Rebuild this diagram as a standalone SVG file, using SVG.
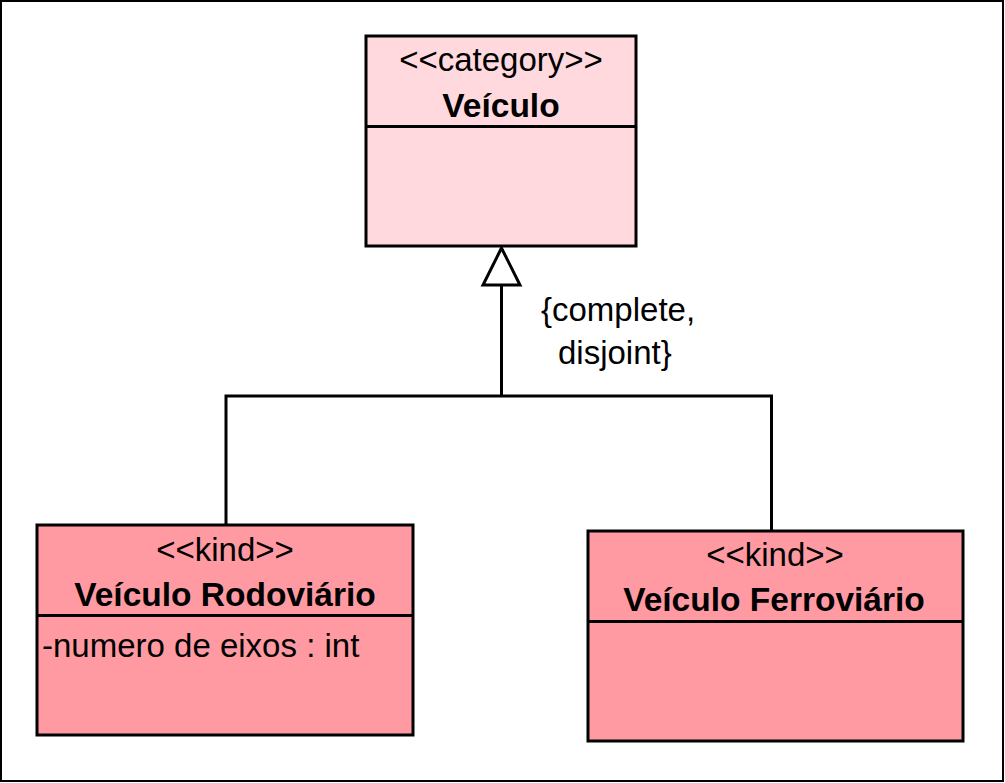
<svg xmlns="http://www.w3.org/2000/svg" width="1005" height="783" viewBox="0 0 1005 783">
<style>
.box{stroke:#000;stroke-width:3}
.cat{fill:#FFD9DD}
.kind{fill:#FF9AA2}
.ln{stroke:#000;stroke-width:3;fill:none}
text{font-family:"Liberation Sans",Arial,sans-serif;font-size:33px;fill:#000}
.b{font-weight:bold;font-size:33.5px}
.c{text-anchor:middle}
</style>
<rect x="0" y="0" width="1005" height="783" fill="#fff"/>
<rect x="1" y="1" width="1002" height="780" fill="none" stroke="#000" stroke-width="2"/>
<g id="connectors">
<polyline class="ln" points="501.5,285 501.5,396"/>
<polyline class="ln" points="226,525 226,396 771.5,396 771.5,531"/>
<polygon points="501.5,248 483,285 520,285" fill="#fff" stroke="#000" stroke-width="3" stroke-linejoin="miter"/>
<text x="541" y="321">{complete,</text>
<text x="558" y="364">disjoint}</text>
</g>
<g id="veiculo">
<rect class="box cat" x="366" y="36" width="270" height="210"/>
<line class="ln" x1="366" y1="126.5" x2="636" y2="126.5"/>
<text class="c" x="501" y="71">&lt;&lt;category&gt;&gt;</text>
<text class="c b" x="501" y="117">Veículo</text>
</g>
<g id="veiculo-rodoviario">
<rect class="box kind" x="37" y="525" width="376" height="210"/>
<line class="ln" x1="37" y1="615.5" x2="413" y2="615.5"/>
<text class="c" x="225" y="561">&lt;&lt;kind&gt;&gt;</text>
<text class="c b" x="225" y="606">Veículo Rodoviário</text>
<text x="42" y="657">-numero de eixos : int</text>
</g>
<g id="veiculo-ferroviario">
<rect class="box kind" x="588" y="531" width="375" height="210"/>
<line class="ln" x1="588" y1="621.5" x2="963" y2="621.5"/>
<text class="c" x="775" y="566">&lt;&lt;kind&gt;&gt;</text>
<text class="c b" x="774" y="611">Veículo Ferroviário</text>
</g>
</svg>
